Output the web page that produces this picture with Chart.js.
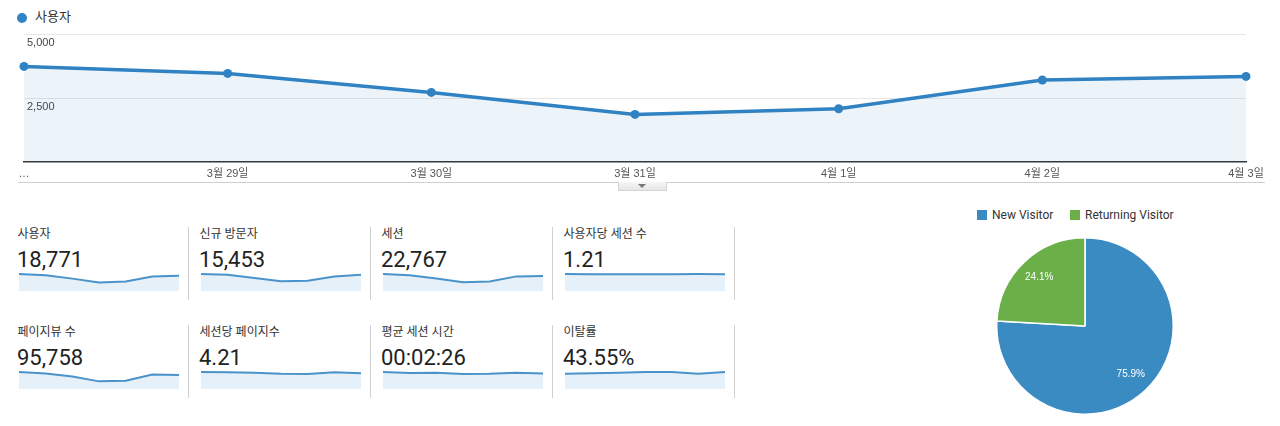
<!DOCTYPE html>
<html><head><meta charset="utf-8">
<script src="https://cdn.jsdelivr.net/npm/chart.js@4"></script>
<style>
html,body{margin:0;padding:0;background:#fff;width:1280px;height:426px;overflow:hidden;}
body{position:relative;font-family:Roboto,"Noto Sans CJK KR",sans-serif;color:#222;}
.abs{position:absolute;}
canvas{position:absolute;}
.lbl{position:absolute;font-size:12px;line-height:14px;color:#333;white-space:nowrap;}
.val{position:absolute;font-size:22px;line-height:22px;color:#222;white-space:nowrap;}
.sep{position:absolute;width:1px;background:#d0d0d0;}
.lg{position:absolute;font-size:12px;line-height:14px;color:#333;white-space:nowrap;}
</style></head>
<body>
<div class="abs" style="left:16.5px;top:12.5px;width:10px;height:10px;border-radius:50%;background:#3384c4"></div>
<div class="lg" style="left:35px;top:10px;font-size:13px;">사용자</div>
<canvas id="main" width="1280" height="182" style="left:0;top:0;width:1280px;height:182px"></canvas>
<div class="abs" style="left:18px;top:182px;width:1247px;height:1px;background:#cfcfcf"></div>
<div class="abs" style="left:618px;top:182px;width:47px;height:8px;background:linear-gradient(#f6f6f6,#e6e6e6);border:1px solid #d4d4d4;border-top:none;"></div>
<div class="abs" style="left:638px;top:184px;width:0;height:0;border-left:4px solid transparent;border-right:4px solid transparent;border-top:4px solid #777"></div>
<div id="cards"></div>
<div class="abs" style="left:977px;top:210px;width:10px;height:10px;background:#3a8bc1"></div>
<div class="lg" id="lg0" style="left:992px;top:208px;"></div>
<div class="abs" style="left:1070px;top:210px;width:10px;height:10px;background:#6aaf48"></div>
<div class="lg" id="lg1" style="left:1085px;top:208px;"></div>
<canvas id="pie" width="178" height="178" style="left:996px;top:237px;width:178px;height:178px"></canvas>
<script>
// ---- data ----
const dates = ['…','3월 29일','3월 30일','3월 31일','4월 1일','4월 2일','4월 3일'];
const users = [3734, 3461, 2719, 1859, 2082, 3203, 3344];
const newVisitors = [2700, 2590, 2050, 1565, 1620, 2320, 2590];
const sessions = [4150, 3820, 3070, 2160, 2320, 3570, 3650];
const sessionsPerUser = [1.22, 1.21, 1.21, 1.21, 1.21, 1.22, 1.21];
const pageviews = [18180, 16700, 13360, 8160, 8900, 15580, 14840];
const pagesPerSession = [4.60, 4.51, 4.42, 4.14, 4.05, 4.51, 4.23];
const avgDurationSec = [158, 148, 152, 139, 142, 152, 145];
const bounceRate = [41.5, 42.3, 44.2, 46.0, 46.0, 41.5, 46.0];
const yTickValues = [0, 2500, 5000];
const metricNames = ['사용자','신규 방문자','세션','사용자당 세션 수','페이지뷰 수','세션당 페이지수','평균 세션 시간','이탈률'];
const metricTotals = ['18,771','15,453','22,767','1.21','95,758','4.21','00:02:26','43.55%'];
const metricSeries = [users, newVisitors, sessions, sessionsPerUser, pageviews, pagesPerSession, avgDurationSec, bounceRate];
const pieLabels = ['New Visitor','Returning Visitor'];
const pieValues = [75.9, 24.1];

const LINE = '#3082c2';
const tickFont = {family:'"Liberation Sans","Noto Sans CJK KR",sans-serif', size:11};

// ---- main chart ----
new Chart(document.getElementById('main'), {
  type:'line',
  data:{labels:dates, datasets:[{
    label:'사용자', data:users, borderColor:LINE, borderWidth:3.5,
    backgroundColor:'rgba(48,130,194,0.095)', fill:'origin', tension:0,
    pointRadius:4.5, pointBackgroundColor:LINE, pointBorderWidth:0, clip:false
  }]},
  options:{
    responsive:false, animation:false, devicePixelRatio:1,
    layout:{padding:{left:24,right:34,top:34,bottom:0}},
    plugins:{legend:{display:false}, tooltip:{enabled:false}},
    scales:{
      x:{offset:false, grid:{display:false, drawTicks:false},
         border:{display:true, color:'#333', width:1.5},
         ticks:{color:'#555', font:tickFont, padding:5, maxRotation:0, autoSkip:false},
         afterFit:s=>{s.height=20;}},
      y:{min:0, max:5000, afterBuildTicks:s=>{s.ticks=yTickValues.map(v=>({value:v}));},
         grid:{drawTicks:false, color:c=>c.tick && c.tick.value===0?'rgba(0,0,0,0)':'#e6e6e6'},
         border:{display:false},
         ticks:{mirror:true, autoSkip:false, padding:3, labelOffset:9, color:'#444', font:tickFont,
                callback:v=>v===0?'':v.toLocaleString('en-US')},
         afterFit:s=>{s.width=0;}}
    }
  }
});

// ---- metric cards ----
const cards = document.getElementById('cards');
const colX = [18, 200, 382, 564];
const rowY = [0, 98];
metricNames.forEach((name,i)=>{
  const c = i%4, r = Math.floor(i/4);
  const x = colX[c], dy = rowY[r];
  const l = document.createElement('div'); l.className='lbl';
  l.style.left=(x-0.5)+'px'; l.style.top=(227+dy)+'px'; l.textContent=name; cards.appendChild(l);
  const v = document.createElement('div'); v.className='val';
  v.style.left=(x-1)+'px'; v.style.top=(249+dy)+'px'; v.textContent=metricTotals[i]; cards.appendChild(v);
  const s = document.createElement('div'); s.className='sep';
  s.style.left=(x+170)+'px'; s.style.top=(227+dy)+'px'; s.style.height='73px'; cards.appendChild(s);
  const cv = document.createElement('canvas');
  cv.width=160; cv.height=19; cv.style.left=(x+1)+'px'; cv.style.top=(272+dy)+'px';
  cv.style.width='160px'; cv.style.height='19px';
  cards.appendChild(cv);
  const d = metricSeries[i];
  new Chart(cv, {
    type:'line',
    data:{labels:dates, datasets:[{data:d, borderColor:'#4a93ca', borderWidth:2,
      backgroundColor:'#e5f0f9', fill:'origin', tension:0, pointRadius:0, clip:false}]},
    options:{responsive:false, animation:false, devicePixelRatio:1,
      layout:{padding:{top:2,left:0,right:0,bottom:0}},
      plugins:{legend:{display:false}, tooltip:{enabled:false}},
      scales:{x:{display:false, offset:false}, y:{display:false, min:0, max:Math.max(...d)}}}
  });
});

// ---- pie ----
document.getElementById('lg0').textContent = pieLabels[0];
document.getElementById('lg1').textContent = pieLabels[1];
const pieLabelPlugin = {
  id:'pieLabels',
  afterDatasetsDraw(chart){
    const ctx = chart.ctx, meta = chart.getDatasetMeta(0);
    const total = pieValues.reduce((a,b)=>a+b,0);
    ctx.save();
    ctx.fillStyle='#fff'; ctx.font='10px "Liberation Sans",sans-serif';
    ctx.textAlign='center'; ctx.textBaseline='middle';
    meta.data.forEach((arc,i)=>{
      const p = arc.getProps(['x','y','startAngle','endAngle','outerRadius'], true);
      const a = (p.startAngle+p.endAngle)/2, r = p.outerRadius*0.755;
      ctx.fillText((pieValues[i]/total*100).toFixed(1)+'%', p.x+Math.cos(a)*r, p.y+Math.sin(a)*r);
    });
    ctx.restore();
  }
};
new Chart(document.getElementById('pie'), {
  type:'pie',
  data:{labels:pieLabels, datasets:[{data:pieValues, backgroundColor:['#3a8bc1','#6aaf48'],
    borderColor:'#fff', borderWidth:1.5}]},
  options:{responsive:false, animation:false, devicePixelRatio:1,
    layout:{padding:0},
    plugins:{legend:{display:false}, tooltip:{enabled:false}}},
  plugins:[pieLabelPlugin]
});
</script>
</body></html>
